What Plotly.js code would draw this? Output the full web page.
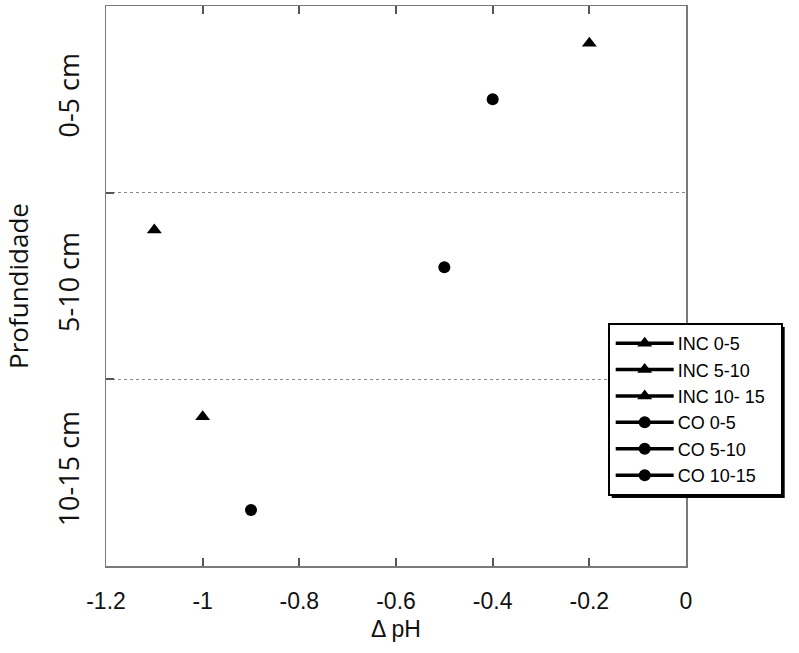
<!DOCTYPE html>
<html><head><meta charset="utf-8">
<script src="https://cdn.plot.ly/plotly-3.0.1.min.js"></script>
<style>body{margin:0;background:#fff}</style>
</head><body>
<div id="chart" style="width:799px;height:653px"></div>
<script>
// Data
const seriesNames = ["INC 0-5", "INC 5-10", "INC 10- 15", "CO 0-5", "CO 5-10", "CO 10-15"];
const deltaPH = [-0.2, -1.1, -1.0, -0.4, -0.5, -0.9];
const depthPos = [1.0, 6.0, 11.0, 2.5, 7.0, 13.5];
const symbols = ["triangle-up", "triangle-up", "triangle-up", "circle", "circle", "circle"];
const xTickVals = [-1.2, -1.0, -0.8, -0.6, -0.4, -0.2, 0];
const xTickText = ["-1.2", "-1", "-0.8", "-0.6", "-0.4", "-0.2", "0"];
const depthCenters = [2.5, 7.5, 12.5];
const depthLabels = ["0-5 cm", "5-10 cm", "10-15 cm"];
const depthBounds = [5, 10];

const traces = seriesNames.map((n, i) => ({
  type: "scatter", mode: "lines+markers", name: n,
  x: [deltaPH[i]], y: [depthPos[i]],
  marker: {symbol: symbols[i], size: symbols[i] === "circle" ? 12 : 13, color: "#000"},
  line: {color: "#000", width: 3.5}
}));

const axisGray = "#7a7a7a";
const sansFont = "Liberation Sans, Arial, sans-serif";
const labelFont = "Open Sans, Noto Sans, sans-serif";
const layout = {
  width: 799, height: 653,
  margin: {l: 106, r: 113, t: 6, b: 87},
  paper_bgcolor: "#fff", plot_bgcolor: "#fff",
  showlegend: true,
  font: {family: sansFont, color: "#000"},
  xaxis: {
    range: [-1.2, 0], tickmode: "array", tickvals: xTickVals, ticktext: xTickText,
    ticks: "inside", ticklen: 8, tickcolor: "#555", tickwidth: 1.8,
    showline: true, linecolor: axisGray, linewidth: 1.5, mirror: "ticks",
    showgrid: false, zeroline: false, ticklabelstandoff: 14,
    tickfont: {size: 23, family: sansFont, color: "#111"},
    title: {text: "Δ pH", font: {size: 23, family: sansFont, color: "#111"}, standoff: 8}
  },
  yaxis: {
    range: [15, 0], tickmode: "array", tickvals: depthCenters, ticktext: depthLabels,
    tickangle: -90, ticks: "", showgrid: false, zeroline: false,
    showline: true, linecolor: axisGray, linewidth: 1.5, mirror: true,
    tickfont: {size: 27, family: labelFont, color: "#111"},
    ticklabelstandoff: 15,
    minor: {tickmode: "array", tickvals: depthBounds, ticks: "inside", ticklen: 8, tickcolor: "#555", tickwidth: 1.8,
            showgrid: true, gridcolor: "#888", griddash: "dot", gridwidth: 1.5},
    title: {text: "Profundidade", font: {size: 26, family: labelFont, color: "#111"}, standoff: 14}
  },
  legend: {
    x: 0.865, y: 0.434, xanchor: "left", yanchor: "top",
    bgcolor: "#fff", bordercolor: "#000", borderwidth: 2,
    font: {size: 18, family: sansFont},
    itemwidth: 58, tracegroupgap: 0
  }
};

Plotly.newPlot("chart", traces, layout, {displayModeBar: false, staticPlot: true}).then(gd => {
  // lengthen legend sample lines and centre the markers on them
  gd.querySelectorAll(".legend .traces").forEach(t => {
    t.querySelectorAll("path.js-line").forEach(p => p.setAttribute("d", "M6,0h58"));
    t.querySelectorAll("path.scatterpts").forEach(p => p.setAttribute("transform", "translate(35,0)"));
  });
  // widen the legend box a little and add a drop shadow behind it
  const leg = gd.querySelector("g.legend");
  const bg = leg && leg.querySelector("rect.bg");
  if (bg) {
    const w = parseFloat(bg.getAttribute("width")) + 10, h = parseFloat(bg.getAttribute("height"));
    bg.setAttribute("width", w);
    const sh = document.createElementNS("http://www.w3.org/2000/svg", "rect");
    sh.setAttribute("x", 4); sh.setAttribute("y", 4);
    sh.setAttribute("width", w); sh.setAttribute("height", h);
    sh.setAttribute("fill", "#000");
    bg.parentNode.insertBefore(sh, bg);
  }
});
</script>
</body></html>
